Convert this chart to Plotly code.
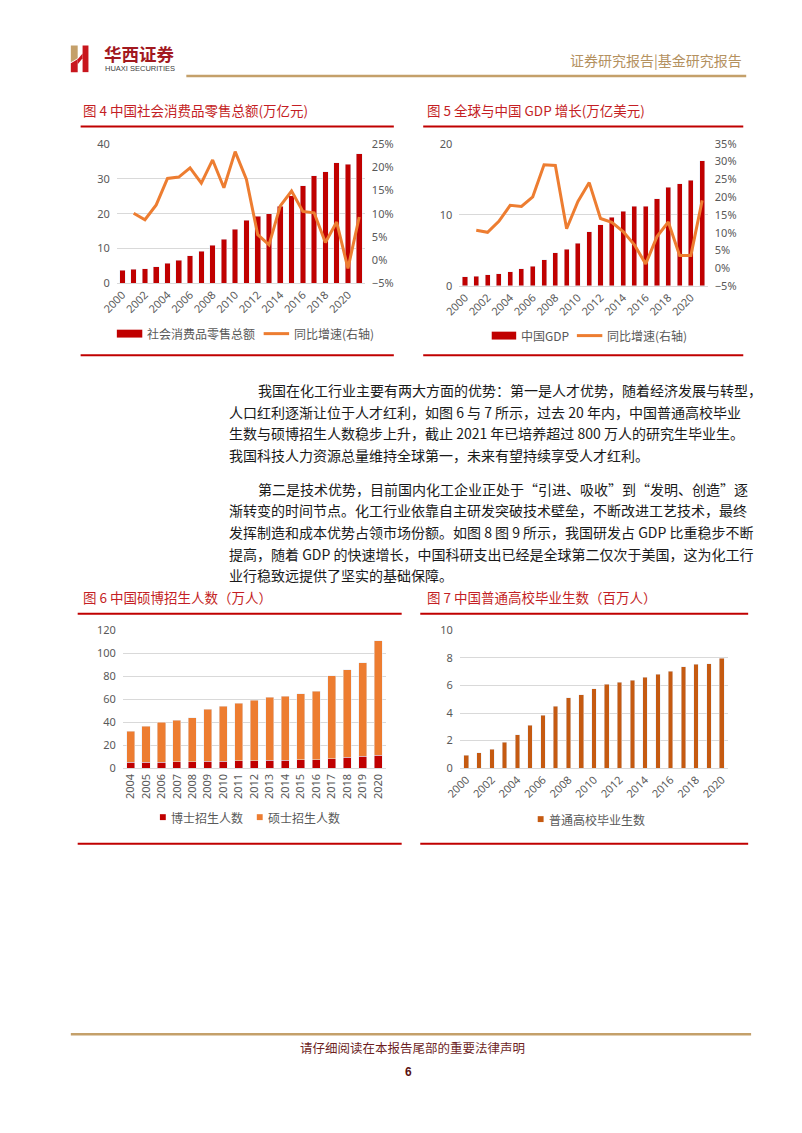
import plotly.graph_objects as go

W, H = 802, 1133


def fx(x):
    return x / W


def fy(y):
    return 1 - y / H


# ---------------- data ----------------
years_a = [str(y) for y in range(2000, 2022)]
ticks_a = [str(y) for y in range(2000, 2022, 2)]
retail_sales = [3.7, 4.0, 4.2, 4.8, 5.8, 6.6, 7.9, 9.2, 11.0, 12.7, 15.6, 18.1,
                19.3, 20.0, 22.1, 25.2, 28.1, 30.9, 32.1, 34.7, 34.2, 37.3]
retail_growth = [None, 10.1, 8.7, 11.9, 17.6, 17.9, 19.9, 16.6, 21.6, 15.6, 23.4, 17.4,
                 5.5, 3.3, 11.7, 14.9, 10.5, 10.2, 3.8, 8.2, -1.8, 9.3]
china_gdp = [1.3, 1.4, 1.6, 1.7, 2.0, 2.4, 2.8, 3.7, 4.7, 5.2, 6.0, 7.6,
             8.6, 9.7, 10.5, 11.2, 11.2, 12.3, 13.9, 14.4, 14.9, 17.6]
gdp_growth = [None, 10.7, 10.1, 13.2, 17.7, 17.4, 20.1, 29.1, 28.9, 11.1, 18.8, 24.1,
              14.0, 12.9, 10.3, 6.6, 1.2, 8.9, 13.0, 3.6, 3.6, 19.1]

years_b = [str(y) for y in range(2004, 2021)]
phd_enrol = [5.3, 5.5, 5.6, 5.8, 6.0, 6.2, 6.4, 6.6, 6.8, 7.0, 7.3, 7.4, 7.7, 8.4, 9.6, 10.5, 11.6]
master_enrol = [27.0, 31.4, 34.4, 35.9, 38.3, 45.2, 47.6, 50.0, 52.3, 54.7, 55.3, 57.7,
                59.2, 72.2, 76.1, 81.5, 99.3]

years_c = [str(y) for y in range(2000, 2021)]
ticks_c = [str(y) for y in range(2000, 2021, 2)]
graduates = [0.93, 1.10, 1.38, 1.89, 2.41, 3.10, 3.84, 4.48, 5.12, 5.31, 5.75, 6.08,
             6.25, 6.39, 6.59, 6.81, 7.04, 7.36, 7.53, 7.59, 7.97]

body_lines = [
    "我国在化工行业主要有两大方面的优势：第一是人才优势，随着经济发展与转型，",
    "人口红利逐渐让位于人才红利，如图 6 与 7 所示，过去 20 年内，中国普通高校毕业",
    "生数与硕博招生人数稳步上升，截止 2021 年已培养超过 800 万人的研究生毕业生。",
    "我国科技人力资源总量维持全球第一，未来有望持续享受人才红利。",
    "第二是技术优势，目前国内化工企业正处于“引进、吸收”到“发明、创造”逐",
    "渐转变的时间节点。化工行业依靠自主研发突破技术壁垒，不断改进工艺技术，最终",
    "发挥制造和成本优势占领市场份额。如图 8 图 9 所示，我国研发占 GDP 比重稳步不断",
    "提高，随着 GDP 的快速增长，中国科研支出已经是全球第二仅次于美国，这为化工行",
    "业行稳致远提供了坚实的基础保障。",
]

# ---------------- styles ----------------
RED = "#C00000"
ORANGE = "#ED7D31"
BROWN = "#C55A11"
GRID = "#D9D9D9"
TITLE_RED = "#C41E24"
GOLD = "#C4A06A"
NUMF = "Noto Sans, Liberation Sans, sans-serif"
CJK = "Noto Sans CJK SC"
TICK = dict(family=NUMF, size=11, color="#595959")

fig = go.Figure()

# Chart 4
fig.add_trace(go.Bar(x=years_a, y=retail_sales, marker_color=RED, width=0.5,
                     xaxis="x", yaxis="y", showlegend=False, name="社会消费品零售总额"))
fig.add_trace(go.Scatter(x=years_a, y=retail_growth, mode="lines", line=dict(color=ORANGE, width=3),
                         xaxis="x", yaxis="y2", showlegend=False, name="同比增速(右轴)"))
# Chart 5
fig.add_trace(go.Bar(x=years_a, y=china_gdp, marker_color=RED, width=0.45,
                     xaxis="x2", yaxis="y3", showlegend=False, name="中国GDP"))
fig.add_trace(go.Scatter(x=years_a, y=gdp_growth, mode="lines", line=dict(color=ORANGE, width=3),
                         xaxis="x2", yaxis="y4", showlegend=False, name="同比增速(右轴)"))
# Chart 6
fig.add_trace(go.Bar(x=years_b, y=phd_enrol, marker_color=RED, width=0.52,
                     xaxis="x3", yaxis="y5", showlegend=False, name="博士招生人数"))
fig.add_trace(go.Bar(x=years_b, y=master_enrol, marker_color=ORANGE, width=0.52,
                     xaxis="x3", yaxis="y5", showlegend=False, name="硕士招生人数"))
# Chart 7
fig.add_trace(go.Bar(x=years_c, y=graduates, marker_color=BROWN, width=0.36,
                     xaxis="x4", yaxis="y6", showlegend=False, name="普通高校毕业生数"))


def xax(d0, d1, anchor, tickvals, angle):
    return dict(domain=[fx(d0), fx(d1)], anchor=anchor, type="category", tickvals=tickvals,
                tickangle=angle, tickfont=TICK, showline=True, linecolor=GRID, linewidth=1,
                showgrid=False, ticks="", fixedrange=True)


def yax(top, bottom, anchor, rng, dtick, grid=True):
    return dict(domain=[fy(bottom), fy(top)], anchor=anchor, range=rng, dtick=dtick,
                showgrid=grid, gridcolor=GRID, gridwidth=1, zeroline=False, tickfont=TICK,
                ticks="", showline=False, ticklabelstandoff=6, fixedrange=True)


layout_axes = dict(
    xaxis=xax(101.9, 355.4, "y", ticks_a, -45),
    yaxis=yax(138, 279, "x", [0, 40], 10),
    yaxis2=dict(overlaying="y", side="right", anchor="x", range=[-5, 25], dtick=5, ticksuffix="%",
                showgrid=False, zeroline=False, tickfont=TICK, ticklabelstandoff=6, fixedrange=True),
    xaxis2=xax(451.9, 705.8, "y3", ticks_a, -45),
    yaxis3=yax(137.7, 281.7, "x2", [0, 20], 10),
    yaxis4=dict(overlaying="y3", side="right", anchor="x2", range=[-5, 35], dtick=5, ticksuffix="%",
                showgrid=False, zeroline=False, tickfont=TICK, ticklabelstandoff=6, fixedrange=True),
    xaxis3=xax(108.1, 376.9, "y5", years_b, -90),
    yaxis5=yax(630.7, 770.7, "x3", [0, 120], 20),
    xaxis4=xax(452.5, 726.5, "y6", ticks_c, -45),
    yaxis6=yax(630.7, 770.3, "x4", [0, 10], 2),
)

shapes = []
annotations = []


def hline(x0, x1, y, color, width):
    shapes.append(dict(type="line", xref="paper", yref="paper", x0=fx(x0), x1=fx(x1),
                       y0=fy(y), y1=fy(y), line=dict(color=color, width=width)))


def rect(x0, y0, x1, y1, color):
    shapes.append(dict(type="rect", xref="paper", yref="paper", x0=fx(x0), x1=fx(x1),
                       y0=fy(y1), y1=fy(y0), fillcolor=color, line=dict(width=0)))


def poly(points, color):
    d = "M " + " L ".join(f"{fx(x):.5f},{fy(y):.5f}" for x, y in points) + " Z"
    shapes.append(dict(type="path", xref="paper", yref="paper", path=d,
                       fillcolor=color, line=dict(width=0)))


def text(x, y, s, size, color, family=CJK, xanchor="left", bold=False):
    if bold:
        s = f"<b>{s}</b>"
    annotations.append(dict(x=fx(x), y=fy(y), xref="paper", yref="paper", text=s, showarrow=False,
                            xanchor=xanchor, yanchor="middle",
                            font=dict(family=family, size=size, color=color)))


# ---------- header ----------
poly([(55, 38), (62, 38), (62, 51), (55, 55)], GOLD)
poly([(55, 56), (62, 52), (62, 65), (55, 65)], "#C8161D")
poly([(62, 52), (67, 46), (67, 51), (62, 57)], "#C8161D")
poly([(67, 38), (73, 38), (73, 65), (67, 65)], "#C8161D")
text(87, 46, "华西证券", 17.5, "#A2191F", bold=True)
text(88, 61, "HUAXI SECURITIES", 7.5, "#404040", family="Liberation Sans")
hline(173, 745, 69, GOLD, 2.5)
text(743, 53, "证券研究报告|基金研究报告", 14, "#B4915F", xanchor="right")

# ---------- top charts ----------
text(65, 103, "图 4 中国社会消费品零售总额(万亿元)", 13.5, TITLE_RED)
text(417, 103, "图 5 全球与中国 GDP 增长(万亿美元)", 13.5, TITLE_RED)
hline(65, 385, 120, RED, 2)
hline(415, 742, 120, RED, 2)
hline(65, 385, 352, RED, 2)
hline(415, 742, 352, RED, 2)

# legends chart 4
rect(102, 326, 128, 334, RED)
text(131, 330, "社会消费品零售总额", 12, "#595959")
hline(252, 278, 330, ORANGE, 3)
text(281, 330, "同比增速(右轴)", 12, "#595959")
# legends chart 5
rect(485, 328, 510, 336, RED)
text(513, 332, "中国GDP", 12, "#595959")
hline(572, 598, 332, ORANGE, 3)
text(601, 332, "同比增速(右轴)", 12, "#595959")

# ---------- body text ----------
ys = [387, 409, 431, 453, 487, 509, 531, 553, 575]
indent = {0, 4}
for i, (s, y) in enumerate(zip(body_lines, ys)):
    x = 244 if i in indent else 215
    text(x, y, s, 14, "#1A1A1A")

# ---------- bottom charts ----------
text(65, 597, "图 6 中国硕博招生人数（万人）", 13.5, TITLE_RED)
text(417, 597, "图 7 中国普通高校毕业生数（百万人）", 13.5, TITLE_RED)
hline(62, 393, 614, RED, 2)
hline(412, 747, 614, RED, 2)
hline(62, 393, 847, RED, 2)
hline(412, 747, 847, RED, 2)

rect(146, 817, 152, 823, RED)
text(155, 820, "博士招生人数", 12, "#595959")
rect(245, 817, 251, 823, ORANGE)
text(254, 820, "硕士招生人数", 12, "#595959")
rect(532, 819, 538, 825, BROWN)
text(541, 822, "普通高校毕业生数", 12, "#595959")

# ---------- footer ----------
hline(55, 750, 1040, GOLD, 2.5)
text(404, 1053, "请仔细阅读在本报告尾部的重要法律声明", 12.5, "#6E1F1F", xanchor="center")
text(400, 1078, "6", 12, "#5A1010", family="Liberation Sans", xanchor="center", bold=True)

fig.update_layout(
    width=W, height=H, autosize=False,
    margin=dict(l=0, r=0, t=0, b=0, pad=0),
    paper_bgcolor="white", plot_bgcolor="white",
    barmode="stack",
    shapes=shapes, annotations=annotations,
    showlegend=False,
    **layout_axes,
)

fig.write_html("out.html", config={"displayModeBar": False})
